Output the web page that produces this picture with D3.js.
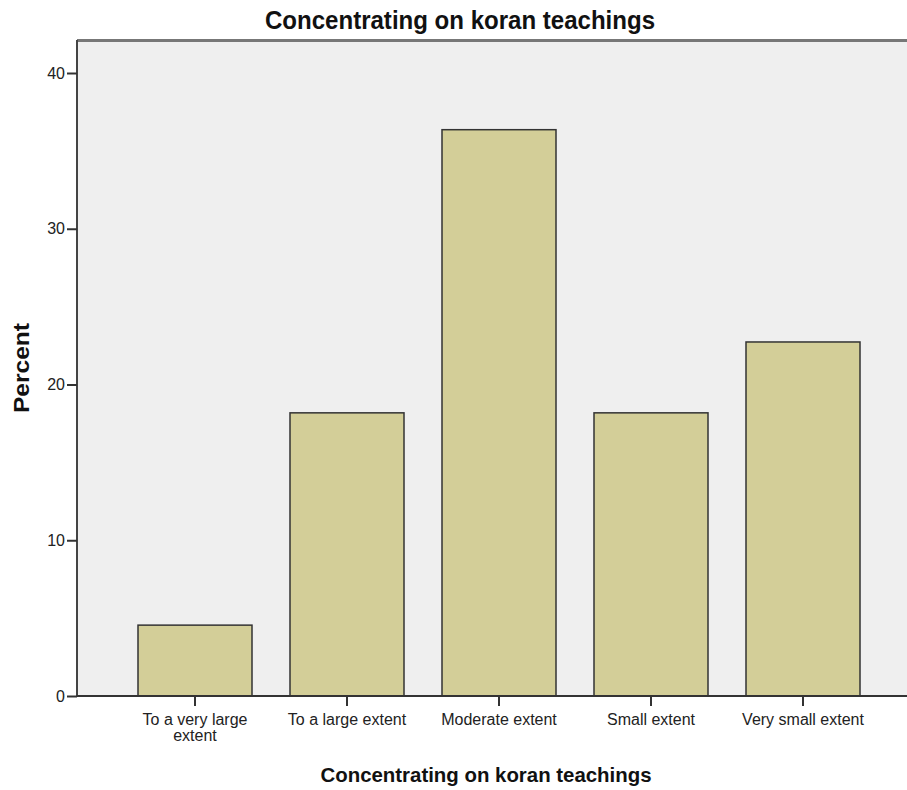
<!DOCTYPE html>
<html>
<head>
<meta charset="utf-8">
<script src="https://cdn.jsdelivr.net/npm/d3@7"></script>
<style>
  body { margin: 0; background: #fff; }
  .tick text { font-family: "Liberation Sans", Arial, sans-serif; font-size: 16px; fill: #222; }
  .cat { font-family: "Liberation Sans", Arial, sans-serif; font-size: 15px; fill: #222; }
</style>
</head>
<body>
<svg id="chart" width="907" height="790"></svg>
<script>
const title = "Concentrating on koran teachings";
const categories = ["To a very large extent", "To a large extent", "Moderate extent", "Small extent", "Very small extent"];
const categoryLines = [["To a very large", "extent"], ["To a large extent"], ["Moderate extent"], ["Small extent"], ["Very small extent"]];
const percents = [4.55, 18.18, 36.36, 18.18, 22.73];
const yTicks = [0, 10, 20, 30, 40];

const svg = d3.select("#chart"),
  plot = {left: 77, top: 40, right: 921, bottom: 696};

const x = d3.scaleBand()
    .domain(categories)
    .range([119, 879])
    .paddingInner(0.25)
    .paddingOuter(0.125);

const y = d3.scaleLinear()
    .domain([0, 40])
    .range([plot.bottom, 73]);

// plot background
svg.append("rect")
    .attr("x", plot.left)
    .attr("y", plot.top)
    .attr("width", plot.right - plot.left)
    .attr("height", plot.bottom - plot.top)
    .attr("fill", "#efefef");

svg.append("line")
    .attr("x1", plot.left).attr("x2", plot.right)
    .attr("y1", plot.top + 0.5).attr("y2", plot.top + 0.5)
    .attr("stroke", "#777").attr("stroke-width", 3);

// bars
svg.append("g").selectAll("rect")
  .data(percents)
  .join("rect")
    .attr("x", (d, i) => x(categories[i]))
    .attr("y", d => y(d))
    .attr("width", x.bandwidth())
    .attr("height", d => y(0) - y(d))
    .attr("fill", "#d3ce98")
    .attr("stroke", "#333")
    .attr("stroke-width", 1.5);

// y axis
const gy = svg.append("g")
    .attr("transform", "translate(" + plot.left + ",0)")
    .call(d3.axisLeft(y).tickValues(yTicks).tickSize(10).tickPadding(2).tickSizeOuter(0));
gy.select(".domain").attr("d", "M0," + plot.top + "V" + plot.bottom).attr("stroke", "#444").attr("stroke-width", 2);
gy.selectAll(".tick line").attr("stroke", "#333").attr("stroke-width", 2);

// x axis
const gx = svg.append("g")
    .attr("transform", "translate(0," + plot.bottom + ")")
    .call(d3.axisBottom(x).tickSize(10).tickFormat(""));
gx.select(".domain").attr("d", "M" + plot.left + ",0H" + plot.right).attr("stroke", "#333").attr("stroke-width", 2);
gx.selectAll(".tick line").attr("stroke", "#333").attr("stroke-width", 2);

gx.selectAll(".tick").each(function(d, i) {
  const t = d3.select(this).append("text")
      .attr("class", "cat")
      .attr("text-anchor", "middle")
      .attr("y", 29);
  categoryLines[i].forEach((s, j) => {
    t.append("tspan").attr("x", 0).attr("dy", j ? 16 : 0).text(s);
  });
});

// titles
svg.append("text")
    .attr("x", 460).attr("y", 29)
    .attr("text-anchor", "middle")
    .attr("textLength", 390)
    .attr("lengthAdjust", "spacingAndGlyphs")
    .style("font-family", "'Liberation Sans', Arial, sans-serif")
    .style("font-weight", "bold")
    .style("font-size", "25px")
    .attr("fill", "#111")
    .text(title);

svg.append("text")
    .attr("x", 486).attr("y", 782)
    .attr("text-anchor", "middle")
    .attr("textLength", 331)
    .attr("lengthAdjust", "spacingAndGlyphs")
    .style("font-family", "'Liberation Sans', Arial, sans-serif")
    .style("font-weight", "bold")
    .style("font-size", "21px")
    .attr("fill", "#111")
    .text(title);

svg.append("text")
    .attr("transform", "translate(29,368) rotate(-90)")
    .attr("text-anchor", "middle")
    .attr("textLength", 90)
    .attr("lengthAdjust", "spacingAndGlyphs")
    .style("font-family", "'Liberation Sans', Arial, sans-serif")
    .style("font-weight", "bold")
    .style("font-size", "22px")
    .attr("fill", "#111")
    .text("Percent");
</script>
</body>
</html>
